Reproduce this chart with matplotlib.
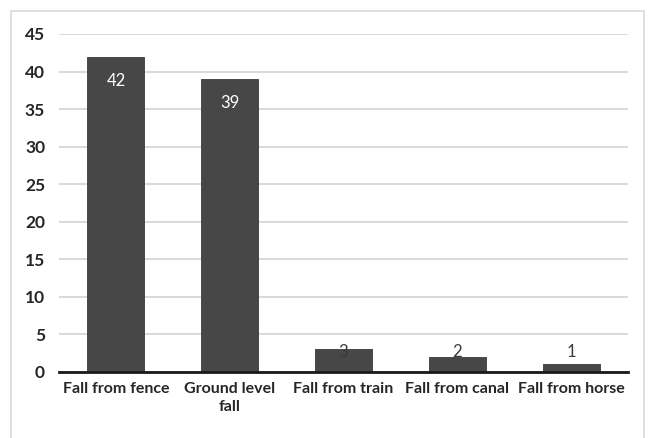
import matplotlib
matplotlib.use("Agg")
import matplotlib.pyplot as plt
from matplotlib.patches import Rectangle

categories = ["Fall from fence", "Ground level\nfall", "Fall from train",
              "Fall from canal", "Fall from horse"]
counts = [42, 39, 3, 2, 1]
y_ticks = [0, 5, 10, 15, 20, 25, 30, 35, 40, 45]

W, H = 649, 438
fig = plt.figure(figsize=(W / 100, H / 100), dpi=100)
fig.patch.set_facecolor("white")

# light chart-area frame
fig.patches.append(Rectangle((11 / W, -0.01), (644 - 11) / W, (438 - 11) / H + 0.01,
                             transform=fig.transFigure, fill=False,
                             edgecolor="#d9d9d9", linewidth=1.2))

ax = fig.add_axes([59 / W, (438 - 372) / H, (628 - 59) / W, (372 - 34) / H])
x = list(range(len(categories)))
ax.bar(x, counts, width=0.5, color="#474747", edgecolor="#3a3a3a", linewidth=0.6, zorder=3)

ax.set_xlim(-0.5, len(categories) - 0.5)
ax.set_ylim(0, 45)
ax.set_yticks(y_ticks)
ax.set_xticks(x)
ax.set_xticklabels(categories)

ax.grid(axis="y", color="#d9d9d9", linewidth=1.4, zorder=0)
ax.set_axisbelow(True)
for s in ["top", "right", "left"]:
    ax.spines[s].set_visible(False)
ax.spines["bottom"].set_color("#1a1a1a")
ax.spines["bottom"].set_linewidth(2)
ax.spines["bottom"].set_zorder(4)
ax.tick_params(axis="both", length=0)
ax.tick_params(axis="y", pad=10)
ax.tick_params(axis="x", pad=7)

font = "Lato"
for lab in ax.get_yticklabels():
    lab.set_fontfamily(font); lab.set_fontweight("bold"); lab.set_fontsize(12.5); lab.set_color("#262626")
for lab in ax.get_xticklabels():
    lab.set_fontfamily(font); lab.set_fontweight("bold"); lab.set_fontsize(11.5); lab.set_color("#262626")
    lab.set_verticalalignment("top")
    lab.set_linespacing(1.35)

for xi, v in zip(x, counts):
    inside = v > 6
    ypos = v - 3.2 if inside else 2.7
    ax.text(xi, ypos, str(v), ha="center", va="center", fontsize=12,
            fontfamily=font, color="white" if inside else "#3a3a3a", zorder=5)

fig.savefig("out.png", dpi=100, facecolor="white")
